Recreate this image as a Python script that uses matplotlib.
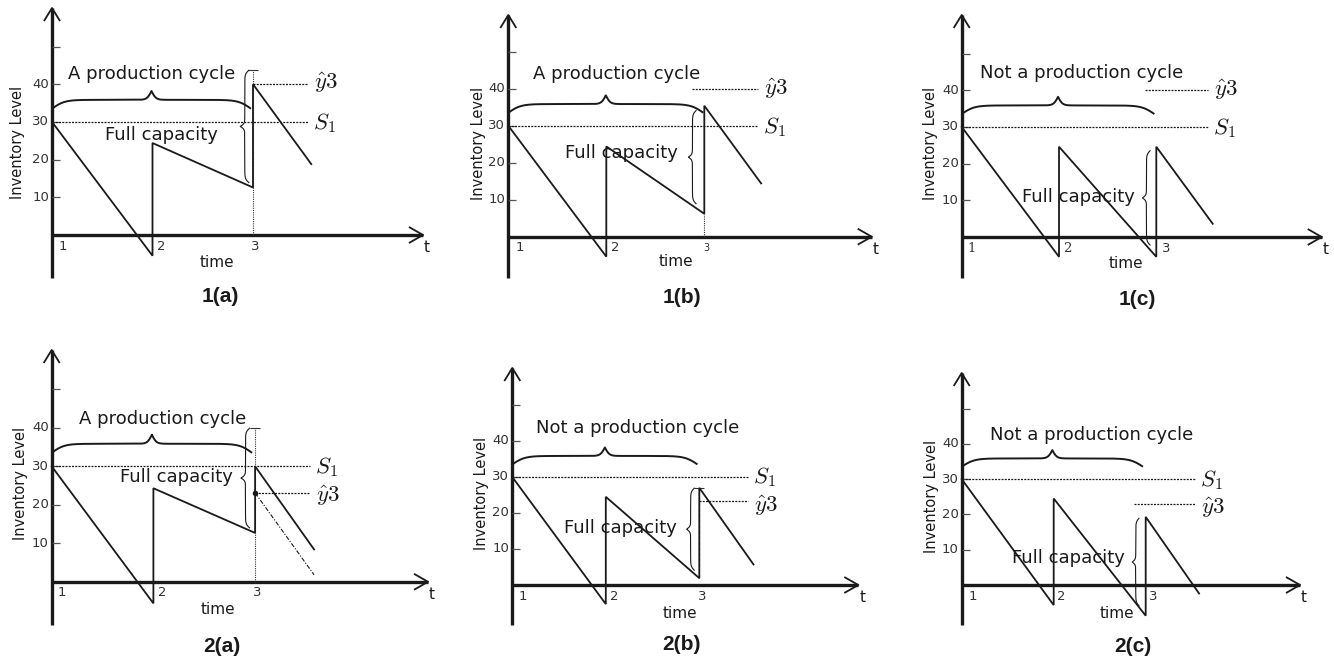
import numpy as np
import matplotlib
matplotlib.use("Agg")
import matplotlib.pyplot as plt

plt.rcParams['mathtext.fontset'] = 'cm'
plt.rcParams['font.family'] = ['DejaVu Sans']

W, H = 1334, 658

# ---------------- data ----------------
panels = ['1(a)', '1(b)', '1(c)', '2(a)', '2(b)', '2(c)']
saw_t = [1, 2, 2, 3, 3, 3.58]
saw_levels = {
    '1(a)': [30, -5.5, 24.4, 12.6, 40, 18.8],
    '1(b)': [30, -5.4, 24.4, 6.2, 35.4, 14.4],
    '1(c)': [30, -5.4, 24.6, -5.4, 24.6, 3.6],
    '2(a)': [30, -5.6, 24.3, 12.7, 30, 8.4],
    '2(b)': [30, -5.3, 24.5, 1.9, 27, 5.7],
    '2(c)': [30, -5.7, 24.5, -8.7, 19.3, -2.4],
}
S1_level = 30
y3_levels = {'1(a)': 40, '1(b)': 40, '1(c)': 40, '2(a)': 23.1, '2(b)': 23.3, '2(c)': 22.9}
y3_span = {'1(a)': [3, 3.55], '1(b)': [2.87, 3.55], '1(c)': [2.88, 3.53],
           '2(a)': [3, 3.54], '2(b)': [3, 3.52], '2(c)': [2.87, 3.54]}
S1_end = {'1(a)': 3.55, '1(b)': 3.55, '1(c)': 3.53, '2(a)': 3.54, '2(b)': 3.52, '2(c)': 3.54}
y_ticks = [10, 20, 30, 40, 50]
y_tick_labels = ['10', '20', '30', '40', '']
x_ticks = [1, 2, 3]
x_tick_labels = ['1', '2', '3']
cycle_labels = {'1(a)': 'A production cycle', '1(b)': 'A production cycle',
                '1(c)': 'Not a production cycle', '2(a)': 'A production cycle',
                '2(b)': 'Not a production cycle', '2(c)': 'Not a production cycle'}
# projected demand line in 2(a)
proj_t = [3, 3.58]
proj_y = [23.1, 1.8]
# capacity bracket (vertical marker) at t=3: [bottom, top, style]
cap_marks = {'1(a)': (0, 43.8, 'dot'), '1(b)': (0, 6.2, 'dotnocap'),
             '2(a)': (0, 40, 'dot'), '2(b)': (1.9, 27, 'dash')}

# ---------------- layout (pixels) ----------------
G = {
    '1(a)': dict(ox=52, oy=235, sx=100.5, sy=3.77, ytop=8, ybot=278, xtip=423),
    '1(b)': dict(ox=508.3, oy=236.7, sx=98, sy=3.7, ytop=15, ybot=278, xtip=871.7),
    '1(c)': dict(ox=961.7, oy=237, sx=97.3, sy=3.67, ytop=15, ybot=278, xtip=1321.7),
    '2(a)': dict(ox=51.7, oy=581.8, sx=101.7, sy=3.85, ytop=350, ybot=625, xtip=428),
    '2(b)': dict(ox=512.3, oy=585, sx=93.5, sy=3.6, ytop=368, ybot=625, xtip=858.3),
    '2(c)': dict(ox=961.7, oy=585, sx=92, sy=3.53, ytop=373, ybot=625, xtip=1300),
}
# vertical pixel offsets of the S1 / y3 labels relative to their lines (positive = up)
s1_off = {'1(a)': -1, '1(b)': -1, '1(c)': -1, '2(a)': -1, '2(b)': 0, '2(c)': -1}
y3_off = {'1(a)': 1, '1(b)': 0, '1(c)': 0, '2(a)': -3, '2(b)': -5, '2(c)': -4}
cycle_brace_end = {'1(a)': 2.98, '1(b)': 2.99, '1(c)': 2.98, '2(a)': 2.97, '2(b)': 2.98, '2(c)': 2.97}
cycle_label_pos = {'1(a)': (1.99, 42.7), '1(b)': (2.11, 44.0), '1(c)': (2.23, 44.7),
                   '2(a)': (2.09, 42.2), '2(b)': (2.34, 43.5), '2(c)': (2.41, 42.5)}
full_pos = {'1(a)': (2.09, 26.5), '1(b)': (2.15, 22.7), '1(c)': (2.2, 11.0),
            '2(a)': (2.23, 27.3), '2(b)': (2.16, 15.7), '2(c)': (2.16, 7.6)}
vbrace = {'1(a)': (2.963, 13.8, 43.8, 9), '1(b)': (2.92, 8.8, 34.2, 8),
          '1(c)': (2.94, -2.3, 23.6, 8), '2(a)': (2.95, 13.9, 40, 9),
          '2(b)': (2.95, 4, 27, 8), '2(c)': (2.93, -6, 19, 7)}
xlab_dx = {'1(a)': [11, 9, 2], '1(b)': [12, 9, 2], '1(c)': [10, 8, 10],
           '2(a)': [10, 9, 2], '2(b)': [11, 8, 3], '2(c)': [11, 8, 8]}
time_pos = {'1(a)': (217, 262), '1(b)': (676, 261.7), '1(c)': (1126, 263.3),
            '2(a)': (218, 610), '2(b)': (680, 613.3), '2(c)': (1116.7, 613.3)}
title_pos = {'1(a)': (220, 297), '1(b)': (681.7, 297.7), '1(c)': (1137.3, 299),
             '2(a)': (221.7, 646.7), '2(b)': (681.7, 645), '2(c)': (1133.3, 646)}
ylab_pos = {'1(a)': (18, 142), '1(b)': (478.3, 143), '1(c)': (930, 143),
            '2(a)': (20.7, 483), '2(b)': (481.7, 493.3), '2(c)': (931.7, 496.7)}

INK = '#1a1a1a'
fig = plt.figure(figsize=(W / 100, H / 100), dpi=100)


def fpos(x, y):
    return x / W, 1 - y / H


def sig(z):
    return 1 / (1 + np.exp(-z))


def brace_profile(Lpx, b_end, b_tip):
    u = np.linspace(0, Lpx, 300)
    f = sig(b_end * u) + sig(b_tip * (u - Lpx)) - 0.5
    f = (f - f[0]) / (f[-1] - f[0])
    return u, f


for name in panels:
    g = G[name]
    dx, dy = 1 / g['sx'], 1 / g['sy']
    ax = fig.add_axes([g['ox'] / W, 1 - g['ybot'] / H,
                       (g['xtip'] - g['ox']) / W, (g['ybot'] - g['ytop']) / H])
    x0, x1 = 1, 1 + (g['xtip'] - g['ox']) * dx
    y0, y1 = (g['oy'] - g['ybot']) * dy, (g['oy'] - g['ytop']) * dy
    ax.set_xlim(x0, x1)
    ax.set_ylim(y0, y1)
    ax.axis('off')
    kw = dict(clip_on=False, solid_capstyle='butt')

    # axes with open arrow heads
    ax.plot([1, 1], [y0, y1], color=INK, lw=2.4, **kw)
    ax.plot([1, x1], [0, 0], color=INK, lw=2.4, **kw)
    ax.plot([1 - 8 * dx, 1, 1 + 8 * dx], [y1 - 13 * dy, y1, y1 - 13 * dy], color=INK, lw=1.3, **kw)
    ax.plot([x1 - 14 * dx, x1, x1 - 14 * dx], [8 * dy, 0, -8 * dy], color=INK, lw=1.3, **kw)

    # y ticks
    for v, lab in zip(y_ticks, y_tick_labels):
        ax.plot([1, 1 + 8 * dx], [v, v], color='#555555', lw=0.9, **kw)
        if lab:
            ax.text(1 - 3 * dx, v, lab, ha='right', va='center', fontsize=9.5, color='#333333')
    # x tick labels
    for t, lab, off in zip(x_ticks, x_tick_labels, xlab_dx[name]):
        fs = 9.5
        fam = ['DejaVu Sans']
        if name == '1(b)' and lab == '3':
            fs = 7
        if name == '1(c)' and lab in ('1', '2'):
            fam = ['DejaVu Serif']
        ax.text(t + off * dx, -11 * dy, lab, ha='center', va='center', fontsize=fs,
                color='#333333', family=fam)
    ax.text(x1 + 4 * dx, -13 * dy, 't', ha='center', va='center', fontsize=11, color=INK)

    # reference levels
    ax.plot([1, S1_end[name]], [S1_level, S1_level], color=INK, lw=0.9,
            linestyle=(0, (1.6, 1.0)), **kw)
    ax.text(S1_end[name] + 5 * dx, S1_level + s1_off[name] * dy, r'$S_1$', ha='left',
            va='center', fontsize=16.5, color=INK)
    ys = y3_levels[name]
    ax.plot(y3_span[name], [ys, ys], color=INK, lw=0.9, linestyle=(0, (1.6, 1.0)), **kw)
    ax.text(y3_span[name][1] + 6 * dx, ys + y3_off[name] * dy, r'$\hat{y}3$', ha='left',
            va='center', fontsize=16.5, color=INK)

    # capacity marks at t=3
    if name in cap_marks:
        lo, hi, sty = cap_marks[name]
        ls = (0, (3, 2)) if sty == 'dash' else (0, (1, 1))
        ax.plot([3, 3], [lo, hi], color='#333333', lw=0.8, linestyle=ls, **kw)
        if sty != 'dotnocap':
            ax.plot([3 - 5 * dx, 3 + 5 * dx], [hi, hi], color='#333333', lw=0.8, **kw)

    # inventory sawtooth
    ax.plot(saw_t, saw_levels[name], color=INK, lw=1.3, solid_joinstyle='miter', clip_on=False)
    if name == '2(a)':
        ax.plot(proj_t, proj_y, color=INK, lw=0.8, linestyle=(0, (4, 1.5, 1, 1.5)), **kw)
        ax.plot([proj_t[0]], [proj_y[0]], 'o', color=INK, ms=3, clip_on=False)

    # horizontal brace over the cycle
    t_end = cycle_brace_end[name]
    Lpx = (t_end - 1) / 2 / dx
    u, f = brace_profile(Lpx, 0.16, 0.45)
    bx = np.concatenate([1 + u * dx, t_end - u[::-1] * dx])
    by = np.concatenate([f, f[::-1]])
    ax.plot(bx, 33.5 + (38.2 - 33.5) * by, color=INK, lw=1.4, **kw)
    cx, cy = cycle_label_pos[name]
    ax.text(cx, cy, cycle_labels[name], ha='center', va='center', fontsize=13, color=INK)

    # vertical brace for full capacity
    tr, ya, yb, depth = vbrace[name]
    Lv = (yb - ya) / 2 / dy
    u, f = brace_profile(Lv, 0.5, 0.7)
    vy = np.concatenate([ya + u * dy, yb - u[::-1] * dy])
    vx = np.concatenate([f, f[::-1]])
    ax.plot(tr - depth * dx * vx, vy, color=INK, lw=0.8, **kw)
    fx, fy = full_pos[name]
    ax.text(fx, fy, 'Full capacity', ha='center', va='center', fontsize=13, color=INK)

    # figure-level texts
    tx, ty = time_pos[name]
    fig.text(*fpos(tx, ty), 'time', ha='center', va='center', fontsize=11, color=INK)
    px_, py_ = title_pos[name]
    fig.text(*fpos(px_, py_), name, ha='center', va='center', fontsize=15,
             fontweight='bold', family=['Liberation Sans'], color=INK)
    lx, ly = ylab_pos[name]
    fig.text(*fpos(lx, ly), 'Inventory Level', ha='center', va='center', fontsize=10.5,
             rotation=90, color=INK)

fig.savefig('out.png', dpi=100)
